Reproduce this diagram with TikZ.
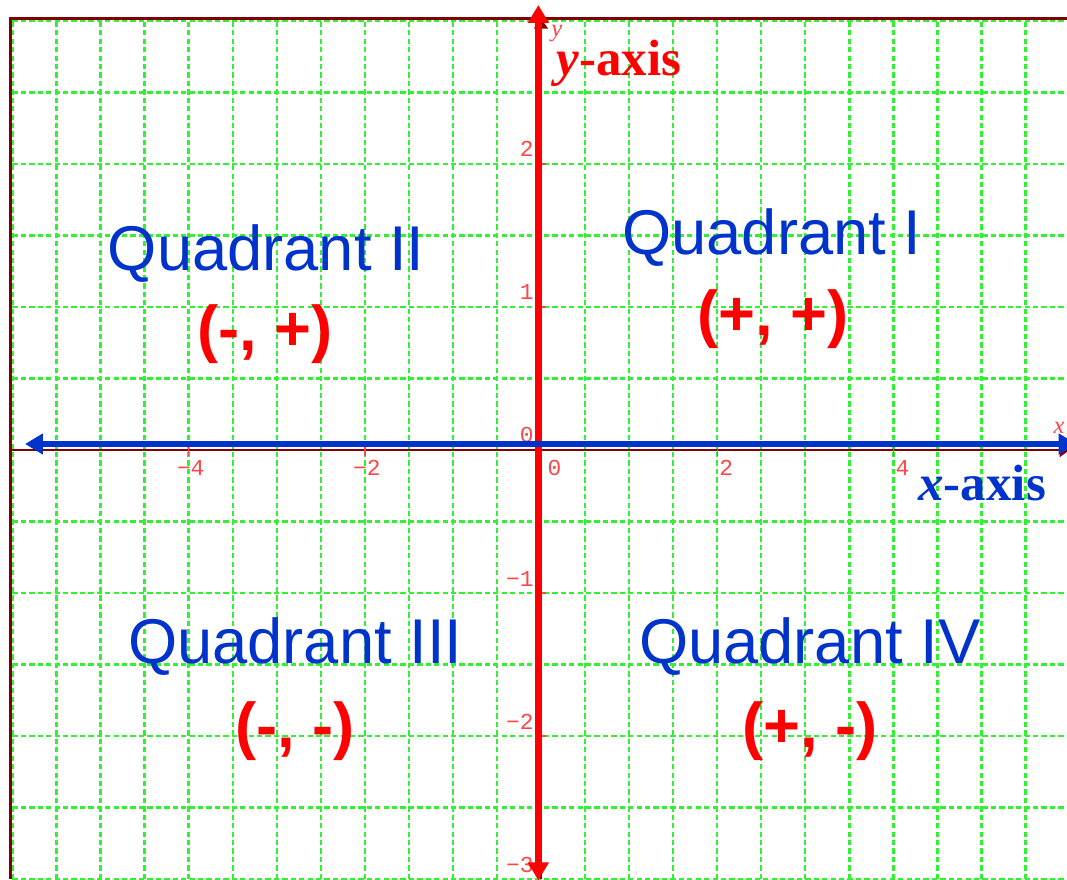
\documentclass[tikz,border=0pt]{standalone}
\usepackage{fontspec}
\setmainfont{Liberation Serif}
\setsansfont{Liberation Sans}
\setmonofont{Liberation Mono}
\usetikzlibrary{arrows.meta}
\definecolor{gridgreen}{RGB}{50,240,50}
\definecolor{framered}{RGB}{128,0,0}
\definecolor{quadblue}{RGB}{0,51,204}
\definecolor{signred}{RGB}{255,0,0}
\definecolor{ticklabel}{RGB}{255,70,70}

\begin{document}
\begin{tikzpicture}[x=1.762cm, y=2.86cm,
  gridline/.style={gridgreen, line width=1.3pt, dash pattern=on 3pt off 1.8pt},
  quad/.style={font=\sffamily\fontsize{36}{40}\selectfont, text=quadblue, inner sep=0pt},
  sign/.style={font=\sffamily\bfseries\fontsize{36}{40}\selectfont, text=signred, inner sep=0pt},
  ticklab/.style={font=\ttfamily\fontsize{13}{15}\selectfont, text=ticklabel, inner sep=0pt},
  axislab/.style={font=\bfseries\fontsize{29}{33}\selectfont, inner sep=0pt, anchor=base west},
  letter/.style={font=\itshape\fontsize{14}{16}\selectfont, text=ticklabel, inner sep=0pt},
  thinaxis/.style={framered, line width=1.2pt, -{Triangle[length=0.2cm, width=0.28cm]}},
  arrow/.style={{Triangle[length=0.36cm, width=0.4cm]}-{Triangle[length=0.36cm, width=0.4cm]}},
]
  \useasboundingbox (-6.1408,-3.0) rectangle (5.9705,3.1469);
  % grid
  \foreach \gx in {-6,-5.5,...,6}
    \draw[gridline] (\gx,-3) -- (\gx,3);
  \foreach \gy in {-3,-2.5,...,3}
    \draw[gridline] (-6,\gy) -- (6,\gy);
  % frame and plain axes
  \draw[framered, line width=1.7pt] (-6.02,-3.0) -- (-6.02,3.016) -- (5.9705,3.016);
  \draw[thinaxis] (-6.02,0) -- (6.0,0);
  \draw[thinaxis] (0,-3) -- (0,3.016);
  \foreach \t in {-4,-2,2,4}
    \draw[ticklabel, line width=0.8pt] (\t,-0.045) -- (\t,0.045);
  \foreach \t in {-2,-1,1,2}
    \draw[ticklabel, line width=0.8pt] (-0.05,\t) -- (0.06,\t);
  % tick labels
  \foreach \t/\d/\nm in {-4/4/mfour, -2/2/mtwo}
    \node[ticklab, anchor=north west] (x\nm) at (\t+0.02,-0.07) {\llap{−}\d};
  \foreach \t/\nm in {2/ptwo, 4/pfour}
    \node[ticklab, anchor=north west] (x\nm) at (\t+0.02,-0.07) {\t};
  \node[ticklab, anchor=north west] (xzero) at (0.07,-0.07) {0};
  \foreach \t/\nm in {2/ptwo, 1/pone, 0/zero}
    \node[ticklab, anchor=south east] (y\nm) at (-0.08,\t+0.05) {\t};
  \foreach \t/\d/\nm in {-1/1/mone, -2/2/mtwo, -3/3/mthree}
    \node[ticklab, anchor=south east] (y\nm) at (-0.08,\t+0.045) {−\d};
  \node[letter] (xletter) at (5.88,0.154) {x};
  \node[letter] (yletter) at (0.18,2.915) {y};
  % coloured axes
  \draw[signred, line width=4pt, arrow] (-0.03,-3.01) -- (-0.03,3.112);
  \draw[quadblue, line width=3.4pt, arrow] (-5.857,0.042) -- (6.08,0.042);
  \node[axislab, text=signred] (ylab) at (0.17,2.622) {\textit{y}-axis};
  \node[axislab, text=quadblue] (xlab) at (4.28,-0.35) {\textit{x}-axis};
  % quadrants
  \node[quad] (qtwo) at (-3.12,1.371) {Quadrant II};
  \node[sign] (stwo) at (-3.13,0.811) {(-, +)};
  \node[quad] (qone) at (2.62,1.483) {Quadrant I};
  \node[sign] (sone) at (2.63,0.916) {(+, +)};
  \node[quad] (qthree) at (-2.79,-1.371) {Quadrant III};
  \node[sign] (sthree) at (-2.79,-1.965) {(-, -)};
  \node[quad] (qfour) at (3.05,-1.371) {Quadrant IV};
  \node[sign] (sfour) at (3.05,-1.965) {(+, -)};
\end{tikzpicture}
\end{document}
